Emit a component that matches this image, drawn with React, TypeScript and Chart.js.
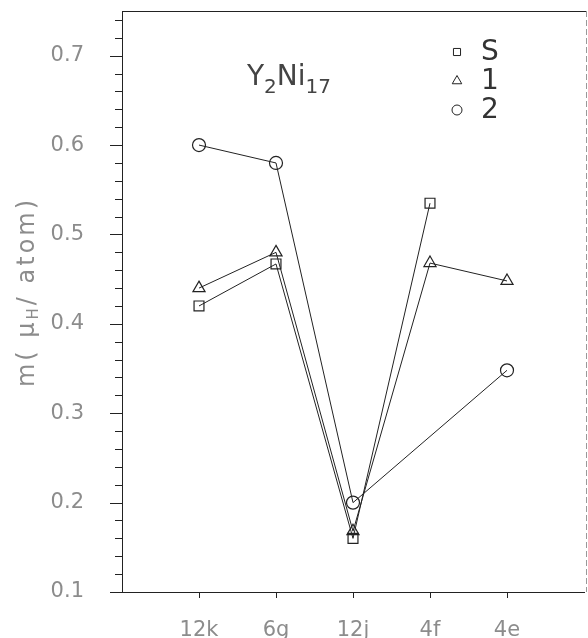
import React, { useEffect, useRef } from "react";
import { Chart, registerables } from "chart.js";
Chart.register(...registerables);

const categories = ["12k", "6g", "12j", "4f", "4e"];
const seriesS: (number | null)[] = [0.42, 0.467, 0.16, 0.535, null];
const series1: (number | null)[] = [0.44, 0.48, 0.168, 0.468, 0.448];
const series2: (number | null)[] = [0.6, 0.58, 0.2, null, 0.348];
const legendLabels = ["S", "1", "2"];
const yMin = 0.1;
const yMax = 0.75;
const yMinorStep = 0.02;

const toPoints = (arr: (number | null)[]) =>
  arr
    .map((v, i) => (v === null ? null : { x: i + 1, y: v }))
    .filter((p) => p !== null) as { x: number; y: number }[];

const FONT = "'DejaVu Sans', sans-serif";
const GRAY = "#8c8c8c";
const INK = "#222";

function drawMarker(ctx: CanvasRenderingContext2D, style: string, x: number, y: number, r: number) {
  ctx.beginPath();
  if (style === "rect") {
    const s = r * Math.SQRT1_2;
    ctx.rect(x - s, y - s, 2 * s, 2 * s);
  } else if (style === "triangle") {
    ctx.moveTo(x, y - r);
    ctx.lineTo(x + r * 0.866, y + r * 0.5);
    ctx.lineTo(x - r * 0.866, y + r * 0.5);
    ctx.closePath();
  } else {
    ctx.arc(x, y, r, 0, Math.PI * 2);
  }
  ctx.stroke();
}

const decorPlugin = {
  id: "decor",
  afterDraw(chart: any) {
    const ctx: CanvasRenderingContext2D = chart.ctx;
    const { left, right, top, bottom } = chart.chartArea;
    const xs = chart.scales.x;
    const ys = chart.scales.y;
    ctx.save();
    ctx.strokeStyle = INK;
    ctx.lineWidth = 1;
    // top border
    ctx.beginPath();
    ctx.moveTo(left, Math.round(top) + 0.5);
    ctx.lineTo(right + 2, Math.round(top) + 0.5);
    ctx.stroke();
    // right border dashed
    ctx.save();
    ctx.strokeStyle = "#999";
    ctx.setLineDash([6, 3]);
    ctx.beginPath();
    ctx.moveTo(right + 2.5, top);
    ctx.lineTo(right + 2.5, bottom);
    ctx.stroke();
    ctx.restore();
    // y ticks
    const n = Math.round((yMax - yMin) / yMinorStep);
    for (let i = 0; i <= n; i++) {
      const v = yMin + i * yMinorStep;
      if (v > yMax + 1e-9) break;
      const py = Math.round(ys.getPixelForValue(v)) + 0.5;
      const major = i % 5 === 0;
      ctx.beginPath();
      ctx.moveTo(left - (major ? 12 : 7), py);
      ctx.lineTo(left, py);
      ctx.stroke();
    }
    // x ticks
    categories.forEach((_, i) => {
      const px = Math.round(xs.getPixelForValue(i + 1)) + 0.5;
      ctx.beginPath();
      ctx.moveTo(px, bottom);
      ctx.lineTo(px, bottom + 6);
      ctx.stroke();
    });
    // y axis title with subscript
    ctx.save();
    ctx.translate(28, 292);
    ctx.rotate(-Math.PI / 2);
    ctx.fillStyle = GRAY;
    ctx.textBaseline = "middle";
    (ctx as any).letterSpacing = "3px";
    const big = `24px ${FONT}`;
    const small = `15px ${FONT}`;
    const parts: [string, string, number][] = [
      ["m( μ", big, 0],
      ["H", small, 6],
      ["/ atom)", big, 0],
    ];
    let total = 0;
    parts.forEach(([t, f]) => {
      ctx.font = f;
      total += ctx.measureText(t).width;
    });
    let cx = -total / 2;
    parts.forEach(([t, f, dy]) => {
      ctx.font = f;
      ctx.textAlign = "left";
      ctx.fillText(t, cx, dy);
      cx += ctx.measureText(t).width;
    });
    ctx.restore();
    // chart title Y2Ni17
    ctx.fillStyle = "#444";
    ctx.textBaseline = "alphabetic";
    ctx.textAlign = "left";
    let tx = 247;
    const tParts: [string, string, number][] = [
      ["Y", `28px ${FONT}`, 85],
      ["2", `20px ${FONT}`, 93],
      ["Ni", `28px ${FONT}`, 85],
      ["17", `20px ${FONT}`, 93],
    ];
    tParts.forEach(([t, f, by]) => {
      ctx.font = f;
      ctx.fillText(t, tx, by);
      tx += ctx.measureText(t).width;
    });
    // legend
    const styles = ["rect", "triangle", "circle"];
    const radii = [5, 5.5, 5];
    const rowsY = [52, 81, 110];
    ctx.strokeStyle = INK;
    styles.forEach((s, i) => {
      drawMarker(ctx, s, 457, rowsY[i], radii[i]);
      ctx.fillStyle = "#333";
      ctx.font = `28px ${FONT}`;
      ctx.textBaseline = "middle";
      ctx.fillText(legendLabels[i], 481, rowsY[i] + 1);
    });
    ctx.restore();
  },
};

const zeroPad = (s: any) => {
  s.paddingTop = 0;
  s.paddingBottom = 0;
  s.paddingLeft = 0;
  s.paddingRight = 0;
};

export default function App() {
  const ref = useRef<HTMLCanvasElement>(null);
  useEffect(() => {
    if (!ref.current) return;
    const mk = (label: string, arr: (number | null)[], style: string, r: number) => ({
      label,
      data: toPoints(arr),
      borderColor: INK,
      borderWidth: 1,
      pointStyle: style,
      pointRadius: r,
      pointBorderColor: INK,
      pointBorderWidth: 1.2,
      pointBackgroundColor: "rgba(0,0,0,0)",
      fill: false,
      tension: 0,
    });
    const chart = new Chart(ref.current, {
      type: "line",
      data: {
        datasets: [
          mk("S", seriesS, "rect", 7),
          mk("1", series1, "triangle", 7),
          mk("2", series2, "circle", 6.5),
        ] as any,
      },
      options: {
        animation: false,
        responsive: false,
        maintainAspectRatio: false,
        layout: { autoPadding: false, padding: { top: 11, right: 4, left: 0, bottom: 0 } },
        plugins: { legend: { display: false }, tooltip: { enabled: false } },
        scales: {
          x: {
            type: "linear",
            min: 0,
            max: 6,
            grid: { display: false },
            border: { display: true, color: INK, width: 1 },
            ticks: {
              stepSize: 1,
              padding: 18,
              color: GRAY,
              font: { family: "DejaVu Sans", size: 21 },
              autoSkip: false,
              maxRotation: 0,
              callback: (v: any) => {
                const i = Math.round(Number(v));
                return i >= 1 && i <= categories.length ? categories[i - 1] : "";
              },
            },
            afterFit: (s: any) => {
              s.height = 46;
              zeroPad(s);
            },
          },
          y: {
            min: yMin,
            max: yMax,
            grid: { display: false },
            border: { display: true, color: INK, width: 1 },
            ticks: {
              stepSize: 0.1,
              padding: 30,
              color: GRAY,
              font: { family: "DejaVu Sans", size: 21 },
              callback: (v: any) => {
                const n = Number(v);
                return Math.abs(n * 10 - Math.round(n * 10)) < 1e-6 ? n.toFixed(1) : "";
              },
            },
            afterFit: (s: any) => {
              s.width = 122;
              zeroPad(s);
            },
          },
        },
      } as any,
      plugins: [decorPlugin],
    });
    return () => chart.destroy();
  }, []);
  return (
    <div style={{ position: "fixed", left: 0, top: 0, width: 588, height: 638, background: "#fff" }}>
      <canvas ref={ref} width={588} height={638} style={{ width: 588, height: 638 }} />
    </div>
  );
}
